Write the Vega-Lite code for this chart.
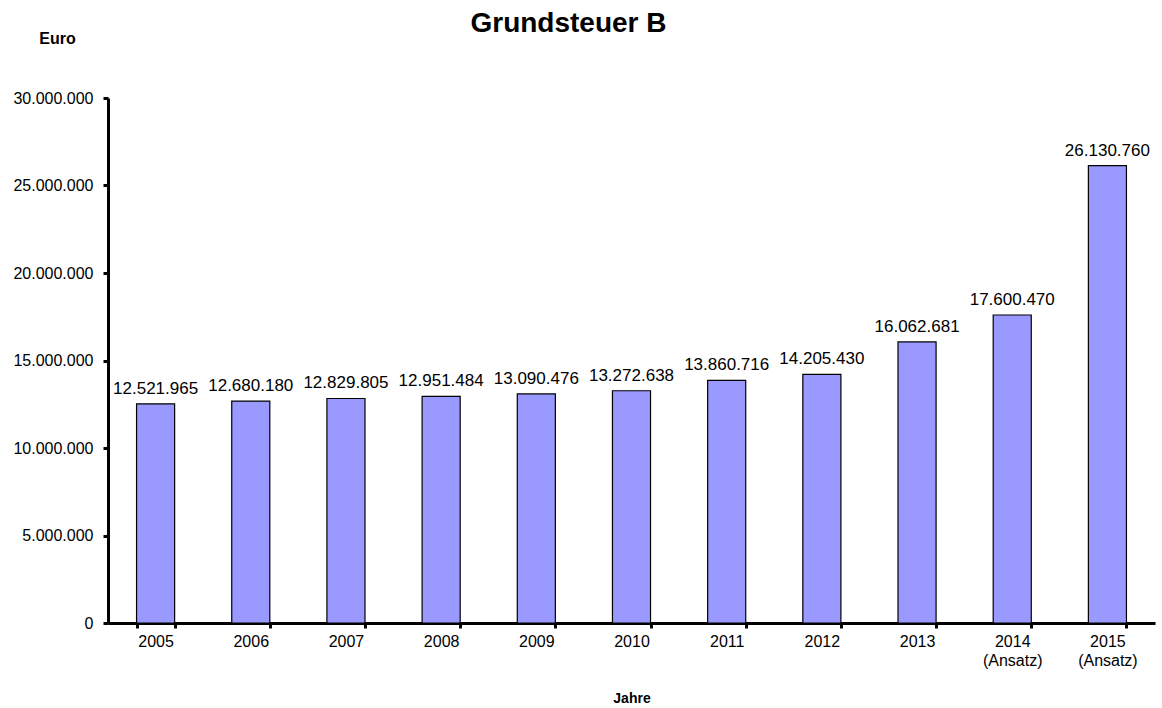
{
  "$schema": "https://vega.github.io/schema/vega-lite/v6.json",
  "width": 1047,
  "height": 525,
  "autosize": {"type": "none"},
  "padding": {"left": 108, "top": 98, "right": 7, "bottom": 85},
  "background": "white",
  "config": {
    "locale": {"number": {"decimal": ",", "thousands": ".", "grouping": [3], "currency": ["", " €"]}},
    "font": "Liberation Sans",
    "view": {"stroke": null}
  },
  "title": {
    "text": "Grundsteuer B",
    "fontSize": 28,
    "fontWeight": "bold",
    "font": "Liberation Sans",
    "color": "black",
    "anchor": "middle",
    "dx": -63,
    "dy": 8,
    "offset": 0
  },
  "data": {
    "values": [
      {"Jahr": "2005", "Euro": 12521965},
      {"Jahr": "2006", "Euro": 12680180},
      {"Jahr": "2007", "Euro": 12829805},
      {"Jahr": "2008", "Euro": 12951484},
      {"Jahr": "2009", "Euro": 13090476},
      {"Jahr": "2010", "Euro": 13272638},
      {"Jahr": "2011", "Euro": 13860716},
      {"Jahr": "2012", "Euro": 14205430},
      {"Jahr": "2013", "Euro": 16062681},
      {"Jahr": "2014 (Ansatz)", "Euro": 17600470},
      {"Jahr": "2015 (Ansatz)", "Euro": 26130760}
    ]
  },
  "encoding": {
    "x": {
      "field": "Jahr",
      "type": "nominal",
      "sort": null,
      "scale": {"paddingInner": 0.6, "paddingOuter": 0.3},
      "axis": {
        "title": "Jahre",
        "titleFontSize": 14,
        "titleFontWeight": "bold",
        "titleColor": "black",
        "titleY": 75,
        "titleBaseline": "middle",
        "labelAngle": 0,
        "labelFontSize": 16,
        "labelColor": "black",
        "labelPadding": 5,
        "labelLineHeight": 19,
        "labelExpr": "split(datum.label, ' ')",
        "domainColor": "black",
        "domainWidth": 3,
        "tickColor": "black",
        "tickWidth": 3,
        "tickSize": 5,
        "tickBand": "extent"
      }
    },
    "y": {
      "field": "Euro",
      "type": "quantitative",
      "scale": {"domain": [0, 30000000], "nice": false},
      "axis": {
        "title": "Euro",
        "titleAngle": 0,
        "titleX": -51,
        "titleY": -60,
        "titleAlign": "center",
        "titleBaseline": "middle",
        "titleFontSize": 16,
        "titleFontWeight": "bold",
        "titleColor": "black",
        "values": [0, 5000000, 10000000, 15000000, 20000000, 25000000, 30000000],
        "format": ",.0f",
        "labelFontSize": 16,
        "labelColor": "black",
        "labelPadding": 10,
        "grid": false,
        "domainColor": "black",
        "domainWidth": 3,
        "tickColor": "black",
        "tickWidth": 3,
        "tickSize": 5
      }
    }
  },
  "layer": [
    {
      "mark": {"type": "bar", "color": "#9999FF", "stroke": "black", "strokeWidth": 1.2}
    },
    {
      "mark": {"type": "text", "baseline": "alphabetic", "dy": -10, "fontSize": 17, "color": "black"},
      "encoding": {
        "text": {"field": "Euro", "type": "quantitative", "format": ",.0f"}
      }
    }
  ]
}
